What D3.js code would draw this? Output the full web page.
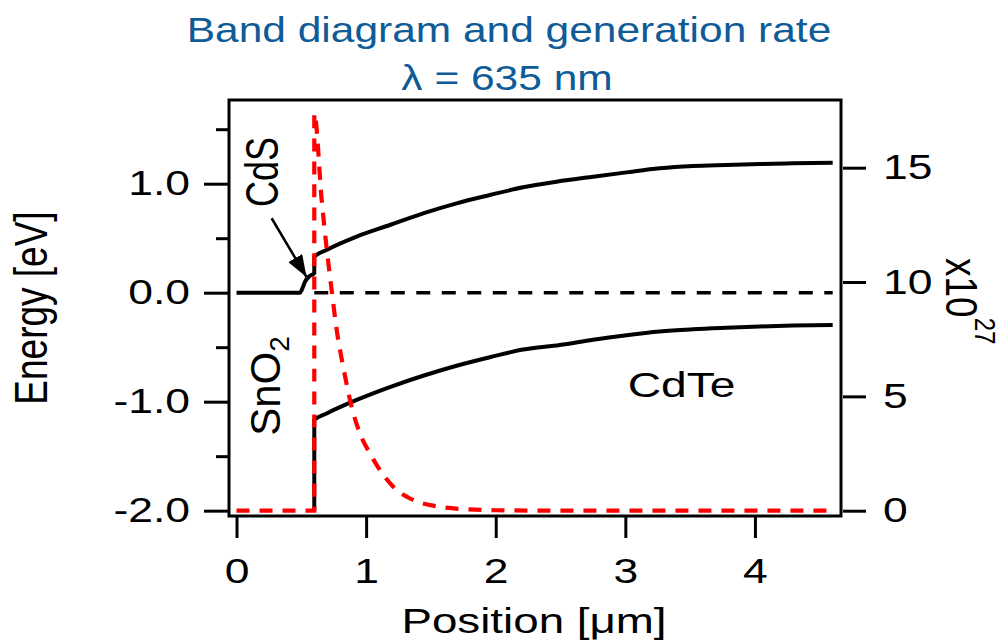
<!DOCTYPE html>
<html>
<head>
<meta charset="utf-8">
<script src="https://cdn.jsdelivr.net/npm/d3@7"></script>
<style>
  body { margin: 0; background: #fff; }
  text { font-family: Arial, "Liberation Sans", Helvetica, sans-serif; fill: #000; }
</style>
</head>
<body>
<svg id="chart" width="1005" height="642"></svg>
<script>
// ---- data ----
// Conduction band edge: CdS region, spike at the CdS/CdTe interface, then CdTe
const cbPosition = [0, 0.49, 0.505, 0.528, 0.567, 0.6, 0.6, 0.695, 0.927, 1.183, 1.44, 1.698, 1.955, 2.211, 2.469, 2.751, 3.009, 3.265, 3.522, 3.779, 4.036, 4.293, 4.6];
const cbEnergy   = [0, 0, 0.03, 0.10, 0.155, 0.178, 0.33, 0.392, 0.514, 0.621, 0.728, 0.82, 0.896, 0.967, 1.018, 1.064, 1.104, 1.141, 1.162, 1.172, 1.181, 1.187, 1.193];

// Valence band edge in CdTe (drops to the bottom at the interface)
const vbPosition = [0.6, 0.6, 0.695, 0.927, 1.183, 1.44, 1.698, 1.955, 2.211, 2.494, 2.751, 3.009, 3.265, 3.522, 3.779, 4.036, 4.293, 4.6];
const vbEnergy   = [-2.0, -1.168, -1.108, -0.984, -0.866, -0.762, -0.67, -0.592, -0.522, -0.48, -0.432, -0.39, -0.356, -0.336, -0.322, -0.31, -0.302, -0.296];

// Fermi level
const fermiPosition = [0.6, 4.6];
const fermiEnergy   = [0, 0];

// Generation rate (units of 1e27), right axis
const genPosition = [0, 0.6, 0.6, 0.657, 0.695, 0.734, 0.773, 0.823, 0.888, 0.952, 1.029, 1.106, 1.209, 1.363, 1.567, 1.775, 2.0, 2.5, 3.0, 3.5, 4.0, 4.6];
const genRate     = [0, 0, 17.38, 13.6, 11.5, 9.65, 7.9, 6.3, 4.55, 3.38, 2.51, 1.78, 1.05, 0.47, 0.17, 0.06, 0.02, 0, 0, 0, 0, 0];

// Tick labels
const xTicks = [0, 1, 2, 3, 4];
const yTicks = [-2, -1, 0, 1];
const yMinorTicks = [-1.5, -0.5, 0.5, 1.5];
const yRightTicks = [0, 5, 10, 15];

// ---- layout ----
const svg = d3.select("#chart");
const plot = { left: 229, right: 841, top: 100, bottom: 516 };
const SX = 1.27;          // horizontal glyph stretch used for the labels
const FS = 35;            // base font size

const x  = d3.scaleLinear().domain([-0.058, 4.664]).range([plot.left, plot.right]);
const y  = d3.scaleLinear().domain([-2.049, 1.768]).range([plot.bottom, plot.top]);
const yR = d3.scaleLinear().domain([-0.232, 17.96]).range([plot.bottom, plot.top]);

const zip = (a, b) => a.map((v, i) => [v, b[i]]);

// text helper: translate, stretch horizontally, optional rotation
function label(px, py, rot, size, anchor, sx = SX) {
  return svg.append("text")
    .attr("transform", `translate(${px},${py}) scale(${sx},1)` + (rot ? ` rotate(${rot})` : ""))
    .attr("text-anchor", anchor)
    .attr("font-size", size);
}

// ---- title ----
label(509, 42, 0, 36, "middle", 1.18).style("fill", "#0e5b97").text("Band diagram and generation rate");
label(507, 90, 0, 36, "middle", 1.18).style("fill", "#0e5b97").text("λ = 635 nm");

// ---- axes ----
function styleAxis(g) {
  g.select(".domain").remove();
  g.selectAll(".tick line").attr("stroke", "#000").attr("stroke-width", 3);
  g.selectAll(".tick text").attr("font-size", FS).attr("font-family", null).style("fill", "#000");
}

// left axis
const gL = svg.append("g").attr("transform", `translate(${plot.left},0)`)
  .call(d3.axisLeft(y).tickValues(yTicks).tickSize(25).tickPadding(14).tickFormat(d => d.toFixed(1)));
styleAxis(gL);
gL.selectAll(".tick text").attr("x", -39 / SX).attr("transform", `scale(${SX},1)`);

const gLm = svg.append("g").attr("transform", `translate(${plot.left},0)`)
  .call(d3.axisLeft(y).tickValues(yMinorTicks).tickSize(13).tickFormat(""));
styleAxis(gLm);

// right axis
const gR = svg.append("g").attr("transform", `translate(${plot.right + 2},0)`)
  .call(d3.axisRight(yR).tickValues(yRightTicks).tickSize(23).tickPadding(16).tickFormat(d3.format("d")));
styleAxis(gR);
gR.selectAll(".tick text").attr("x", 40 / SX).attr("transform", `scale(${SX},1)`);

// bottom axis
const gB = svg.append("g").attr("transform", `translate(0,${plot.bottom})`)
  .call(d3.axisBottom(x).tickValues(xTicks).tickSize(22).tickPadding(20).tickFormat(d3.format("d")));
styleAxis(gB);
gB.selectAll(".tick text").attr("transform", `scale(${SX},1)`);

// frame
svg.append("rect")
  .attr("x", plot.left).attr("y", plot.top)
  .attr("width", plot.right - plot.left).attr("height", plot.bottom - plot.top)
  .attr("fill", "none").attr("stroke", "#000").attr("stroke-width", 3);

// axis titles
label(534, 633, 0, 36, "middle").text("Position [μm]");
label(47, 308, -90, 37, "middle").text("Energy [eV]");
const rt = label(946, 258, 90, 37, "start", 1.22);
rt.append("tspan").text("x10");
rt.append("tspan").attr("dy", -24).attr("font-size", 24).text("27");

// ---- curves ----
const lineE = d3.line().x(d => x(d[0])).y(d => y(d[1])).curve(d3.curveMonotoneX);
const lineG = d3.line().x(d => x(d[0])).y(d => yR(d[1])).curve(d3.curveMonotoneX);

svg.append("path").datum(zip(cbPosition, cbEnergy)).attr("d", lineE)
  .attr("fill", "none").attr("stroke", "#000").attr("stroke-width", 4);
svg.append("path").datum(zip(vbPosition, vbEnergy)).attr("d", lineE)
  .attr("fill", "none").attr("stroke", "#000").attr("stroke-width", 4);
svg.append("path").datum(zip(fermiPosition, fermiEnergy)).attr("d", lineE)
  .attr("fill", "none").attr("stroke", "#000").attr("stroke-width", 3.5)
  .attr("stroke-dasharray", "14,11.5");
svg.append("path").datum(zip(genPosition, genRate)).attr("d", lineG)
  .attr("fill", "none").attr("stroke", "#ff0000").attr("stroke-width", 4.2)
  .attr("stroke-dasharray", "13,10");

// ---- annotations ----
label(x(0.32), y(1.107), -90, 36, "middle").text("CdS");
const sn = label(x(0.335), y(-0.856), -90, 42, "middle", 1.02);
sn.append("tspan").text("SnO");
sn.append("tspan").attr("dy", 9).attr("font-size", 28).text("2");
label(x(3.018), y(-0.957), 0, 35, "start", 1.32).text("CdTe");

// arrow pointing at the CdS layer
svg.append("defs").append("marker")
  .attr("id", "head").attr("markerUnits", "userSpaceOnUse")
  .attr("markerWidth", 24).attr("markerHeight", 16)
  .attr("refX", 22).attr("refY", 8).attr("orient", "auto")
  .append("path").attr("d", "M0,0 L22,8 L0,16 Z").attr("fill", "#000");
svg.append("line")
  .attr("x1", x(0.271)).attr("y1", y(0.683))
  .attr("x2", x(0.54)).attr("y2", y(0.144))
  .attr("stroke", "#000").attr("stroke-width", 2.5)
  .attr("marker-end", "url(#head)");
</script>
</body>
</html>
